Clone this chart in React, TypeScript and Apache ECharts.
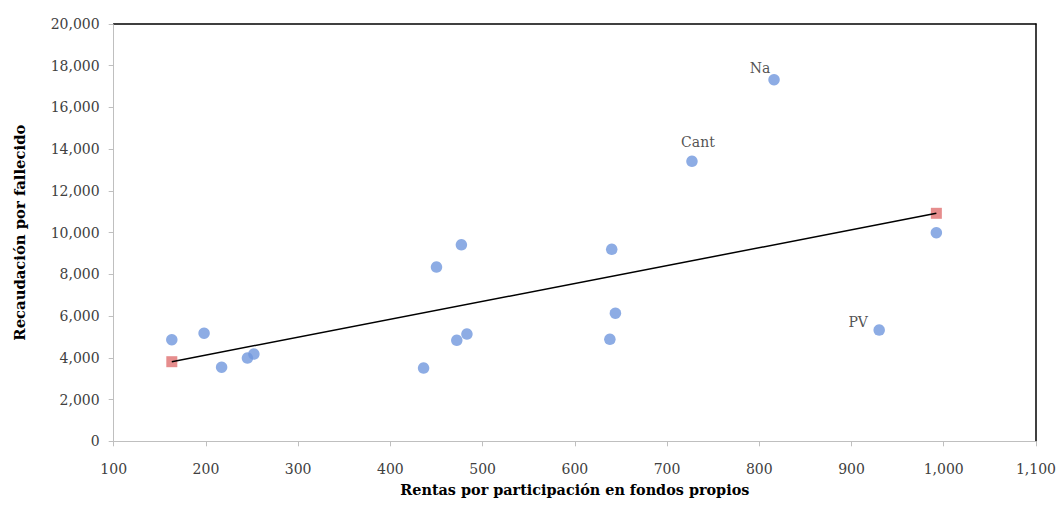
import React, { useEffect, useRef } from "react";
import * as echarts from "echarts";

const xValues = [163, 198, 217, 245, 252, 436, 450, 472, 477, 483, 638, 640, 644, 727, 816, 930, 992];
const yValues = [4870, 5180, 3550, 3990, 4180, 3510, 8350, 4840, 9420, 5140, 4890, 9200, 6140, 13420, 17330, 5330, 10000];
const pointNames = ["", "", "", "", "", "", "", "", "", "", "", "", "", "Cant", "Na", "PV", ""];
const trendX = [163, 992];
const trendY = [3815, 10927];
const labelOffsets: Record<string, number[]> = { Cant: [6, -19], Na: [-14, -12], PV: [-21, -8] };

const xTitle = "Rentas por participación en fondos propios";
const yTitle = "Recaudación por fallecido";

const FONT = "DejaVu Serif";
const fmt = (v: number) => v.toLocaleString("en-US");

export default function App() {
  const ref = useRef<HTMLDivElement>(null);
  useEffect(() => {
    if (!ref.current) return;
    const chart = echarts.init(ref.current, undefined, { renderer: "svg" });
    const pts = xValues.map((x, i) => {
      const name = pointNames[i];
      const item: any = { value: [x, yValues[i]], name };
      if (name) {
        item.label = {
          show: true,
          formatter: name,
          position: "inside",
          offset: labelOffsets[name],
          fontFamily: FONT,
          fontSize: 14,
          color: "#262626",
        };
      }
      return item;
    });
    chart.setOption({
      animation: false,
      textStyle: { fontFamily: FONT },
      grid: { left: 113.7, right: 21.3, top: 24, bottom: 63.7, containLabel: false },
      xAxis: [
        {
          type: "value",
          min: 100,
          max: 1100,
          interval: 100,
          name: xTitle,
          nameLocation: "middle",
          nameGap: 41,
          nameTextStyle: { fontFamily: FONT, fontSize: 14.4, fontWeight: "bold", color: "#000" },
          axisLine: { show: true, lineStyle: { color: "#BFBFBF", width: 1 } },
          axisTick: { show: true, inside: false, length: 5, lineStyle: { color: "#BFBFBF" } },
          axisLabel: { formatter: fmt, fontFamily: FONT, fontSize: 14, color: "#404040", margin: 21 },
          splitLine: { show: false },
        },
        {
          type: "value",
          position: "top",
          min: 100,
          max: 1100,
          axisLine: { show: true, onZero: false, lineStyle: { color: "#000", width: 1.5 } },
          axisTick: { show: false },
          axisLabel: { show: false },
          splitLine: { show: false },
        },
      ],
      yAxis: [
        {
          type: "value",
          min: 0,
          max: 20000,
          interval: 2000,
          name: yTitle,
          nameLocation: "middle",
          nameGap: 87,
          nameRotate: 90,
          nameTextStyle: { fontFamily: FONT, fontSize: 14.8, fontWeight: "bold", color: "#000" },
          axisLine: { show: true, lineStyle: { color: "#BFBFBF", width: 1 } },
          axisTick: { show: true, inside: false, length: 5, lineStyle: { color: "#BFBFBF" } },
          axisLabel: { formatter: fmt, fontFamily: FONT, fontSize: 14, color: "#404040", margin: 14 },
          splitLine: { show: false },
        },
        {
          type: "value",
          position: "right",
          min: 0,
          max: 20000,
          axisLine: { show: true, onZero: false, lineStyle: { color: "#000", width: 1.5 } },
          axisTick: { show: false },
          axisLabel: { show: false },
          splitLine: { show: false },
        },
      ],
      series: [
        {
          type: "scatter",
          data: pts,
          symbol: "circle",
          symbolSize: 11.5,
          itemStyle: { color: "#7097DD" },
          z: 2,
        },
        {
          type: "scatter",
          data: trendX.map((x, i) => [x, trendY[i]]),
          symbol: "rect",
          symbolSize: 11,
          itemStyle: { color: "#E07171" },
          z: 2,
        },
        {
          type: "line",
          data: trendX.map((x, i) => [x, trendY[i]]),
          symbol: "none",
          lineStyle: { color: "#000", width: 1.5 },
          z: 3,
        },
      ],
    });
    return () => chart.dispose();
  }, []);
  return <div ref={ref} style={{ width: 1059, height: 505, position: "absolute", left: 0, top: 0 }} />;
}
